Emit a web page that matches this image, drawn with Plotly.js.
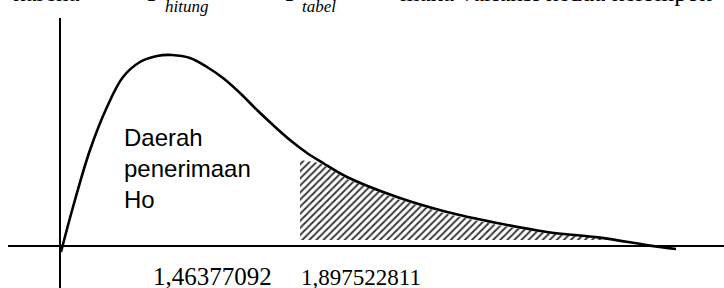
<!DOCTYPE html>
<html>
<head>
<meta charset="utf-8">
<script src="https://cdn.plot.ly/plotly-3.0.1.min.js"></script>
<style>
  html, body { margin: 0; padding: 0; background: #fff; }
  #chart { width: 724px; height: 288px; }
</style>
</head>
<body>
<div id="chart"></div>
<script>
// F-distribution sketch (density)
const curveX = [0.01, 0.13, 0.30, 0.47, 0.63, 0.80, 0.97, 1.12, 1.30, 1.47, 1.63, 1.80, 1.97, 2.13, 2.30, 2.47, 2.63, 2.87, 3.37, 3.87, 4.37, 4.87, 5.40, 5.90, 6.16];
const curveY = [-0.03, 0.195, 0.48, 0.695, 0.845, 0.92, 0.95, 0.955, 0.94, 0.895, 0.84, 0.765, 0.68, 0.605, 0.53, 0.465, 0.415, 0.345, 0.245, 0.17, 0.115, 0.07, 0.042, 0.002, -0.015];

// hatched rejection region
const hatchX   = [2.40, 2.60, 2.87, 3.37, 3.87, 4.37, 4.87, 5.37, 5.60];
const hatchTop = [0.43, 0.415, 0.335, 0.235, 0.16, 0.105, 0.065, 0.04, 0.03];
const hatchBase = 0.03;

// labels
const regionLabel = ['Daerah', 'penerimaan', 'Ho'];
const fHitungLabel = '1,46377092';
const fTabelLabel = '1,897522811';

const polyX = hatchX.concat(hatchX.slice().reverse());
const polyY = hatchTop.concat(hatchX.map(() => hatchBase));

const traces = [
  {
    x: polyX, y: polyY, type: 'scatter', mode: 'lines',
    fill: 'toself', fillcolor: 'rgba(255,255,255,1)',
    fillpattern: { shape: '/', fgcolor: '#3a3a3a', bgcolor: '#ffffff', size: 5, solidity: 0.4 },
    line: { width: 0, color: 'rgba(0,0,0,0)' },
    hoverinfo: 'skip'
  },
  {
    x: curveX, y: curveY, type: 'scatter', mode: 'lines',
    line: { color: '#000', width: 2.6, shape: 'spline', smoothing: 1 },
    hoverinfo: 'skip'
  }
];

const serif = 'Liberation Serif, Times New Roman, serif';
const sans = 'Liberation Sans, Arial, sans-serif';
const topFont = { family: serif, size: 25, color: '#000' };
const subFont = { family: serif, size: 17, color: '#000', style: 'italic' };
const mainY = 1.095, subY = 1.043;

const layout = {
  width: 724, height: 288,
  margin: { l: 8, r: 0, t: 18, b: 0, pad: 0 },
  paper_bgcolor: '#fff', plot_bgcolor: '#fff',
  showlegend: false,
  xaxis: { range: [-0.52, 6.64], showgrid: false, showticklabels: false, ticks: '',
           zeroline: true, zerolinecolor: '#000', zerolinewidth: 2, showline: false, fixedrange: true },
  yaxis: { range: [-0.21, 1.14], showgrid: false, showticklabels: false, ticks: '',
           zeroline: true, zerolinecolor: '#000', zerolinewidth: 2, showline: false, fixedrange: true },
  annotations: [
    { xref: 'x', yref: 'y', x: 0.615, y: 0.39, xanchor: 'left', yanchor: 'middle', align: 'left',
      text: regionLabel.join('<br>'), showarrow: false,
      font: { family: sans, size: 24, color: '#000' } },
    { xref: 'x', yref: 'y', x: 0.91, y: -0.152, xanchor: 'left', yanchor: 'middle',
      text: fHitungLabel, showarrow: false, font: { family: serif, size: 25, color: '#000' } },
    { xref: 'x', yref: 'y', x: 2.39, y: -0.155, xanchor: 'left', yanchor: 'middle',
      text: fTabelLabel, showarrow: false, font: { family: serif, size: 23, color: '#000' } },
    // cropped line of text above the figure
    { xref: 'paper', yref: 'paper', x: 0.1034, y: mainY, xanchor: 'right', yanchor: 'middle',
      text: 'karena', showarrow: false, font: topFont },
    { xref: 'paper', yref: 'paper', x: 0.1913, y: mainY, xanchor: 'left', yanchor: 'middle',
      text: '<i>F</i>', showarrow: false, font: topFont },
    { xref: 'paper', yref: 'paper', x: 0.2165, y: subY, xanchor: 'left', yanchor: 'middle',
      text: 'hitung', showarrow: false, font: subFont },
    { xref: 'paper', yref: 'paper', x: 0.3017, y: mainY, xanchor: 'left', yanchor: 'middle',
      text: '&lt;', showarrow: false, font: topFont },
    { xref: 'paper', yref: 'paper', x: 0.3841, y: mainY, xanchor: 'left', yanchor: 'middle',
      text: '<i>F</i>', showarrow: false, font: topFont },
    { xref: 'paper', yref: 'paper', x: 0.4078, y: subY, xanchor: 'left', yanchor: 'middle',
      text: 'tabel', showarrow: false, font: subFont },
    { xref: 'paper', yref: 'paper', x: 0.5447, y: mainY, xanchor: 'left', yanchor: 'middle',
      text: 'maka variansi kedua kelompok', showarrow: false, font: topFont }
  ]
};

Plotly.newPlot('chart', traces, layout, { staticPlot: true, displayModeBar: false });
</script>
</body>
</html>
